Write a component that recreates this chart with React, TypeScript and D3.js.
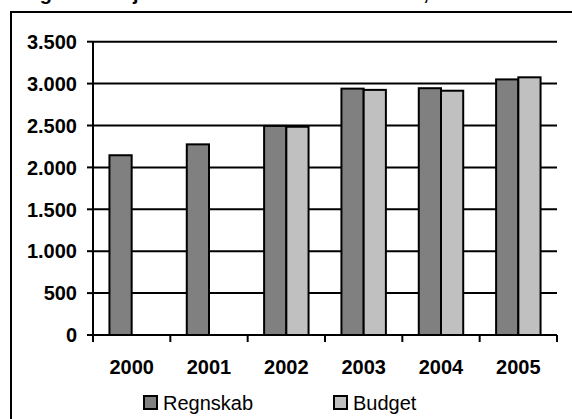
import * as d3 from "d3";

const years = ["2000", "2001", "2002", "2003", "2004", "2005"];
const regnskab = [2145, 2275, 2495, 2940, 2945, 3050];
const budget: (number | null)[] = [null, null, 2485, 2925, 2915, 3075];
const seriesNames = ["Regnskab", "Budget"];
const seriesColors = ["#808080", "#c0c0c0"];
const yTicks = [0, 500, 1000, 1500, 2000, 2500, 3000, 3500];
const tickLabel = (v: number) => d3.format(",")(v).replace(/,/g, ".");

const W = 572;
const H = 419;
const left = 93;
const right = 557;
const top = 41.7;
const bottom = 335;
const font = "'Liberation Sans', Arial, sans-serif";

export default function App() {
    const x = d3.scaleBand<string>().domain(years).range([left, right]).paddingInner(0).paddingOuter(0);
    const inner = d3
        .scaleBand<string>()
        .domain(seriesNames)
        .range([0, x.bandwidth()])
        .paddingInner(0)
        .paddingOuter(0.74);
    const y = d3.scaleLinear().domain([0, 3500]).range([bottom, top]);

    const rows = years.map((yr, i) => ({ yr, values: [regnskab[i], budget[i]] }));
    const boundaries = years.map((yr) => x(yr) as number).concat([right]);

    return (
        <svg
            width={W}
            height={H}
            style={{ position: "absolute", left: 0, top: 0, background: "#fff" }}
            fontFamily={font}
        >
            <rect x={0} y={0} width={W} height={H} fill="#fff" />
            {/* title, cut off at the top like in the source */}
            <text x={22} y={0} fontSize={20} fontWeight="bold" fill="#000">
                Figur 3. Projektmidlerne i alt fra 2000-2005, mio. kr.
            </text>
            <rect x={11} y={12} width={700} height={500} fill="none" stroke="#000" strokeWidth={2} />

            {/* gridlines */}
            {yTicks
                .filter((t) => t > 0)
                .map((t) => (
                    <line key={t} x1={left} x2={right} y1={y(t)} y2={y(t)} stroke="#000" strokeWidth={2} />
                ))}

            {/* bars */}
            {rows.map((r) => (
                <g key={r.yr} transform={`translate(${x(r.yr)},0)`}>
                    {r.values.map((v, j) =>
                        v == null ? null : (
                            <rect
                                key={j}
                                x={inner(seriesNames[j])}
                                y={y(v)}
                                width={inner.bandwidth()}
                                height={bottom - y(v)}
                                fill={seriesColors[j]}
                                stroke="#000"
                                strokeWidth={2}
                            />
                        )
                    )}
                </g>
            ))}

            {/* y axis */}
            <line x1={left} x2={left} y1={top} y2={bottom + 6} stroke="#000" strokeWidth={2} />
            {yTicks.map((t) => (
                <g key={t}>
                    <line x1={left - 6} x2={left} y1={y(t)} y2={y(t)} stroke="#000" strokeWidth={2} />
                    <text
                        x={77}
                        y={y(t)}
                        dy="0.36em"
                        textAnchor="end"
                        fontSize={20}
                        fontWeight="bold"
                        fill="#000"
                    >
                        {tickLabel(t)}
                    </text>
                </g>
            ))}

            {/* x axis */}
            <line x1={left} x2={right} y1={bottom} y2={bottom} stroke="#000" strokeWidth={2} />
            {boundaries.map((b, i) => (
                <line key={i} x1={b} x2={b} y1={bottom} y2={bottom + 7} stroke="#000" strokeWidth={2} />
            ))}
            {years.map((yr) => (
                <text
                    key={yr}
                    x={(x(yr) as number) + x.bandwidth() / 2}
                    y={373.5}
                    textAnchor="middle"
                    fontSize={20}
                    fontWeight="bold"
                    fill="#000"
                >
                    {yr}
                </text>
            ))}

            {/* legend */}
            {seriesNames.map((s, i) => {
                const lx = i === 0 ? 144 : 334;
                return (
                    <g key={s}>
                        <rect x={lx} y={396} width={13} height={13} fill={seriesColors[i]} stroke="#000" strokeWidth={2} />
                        <text x={lx + 19} y={409.5} fontSize={20} fill="#000">
                            {s}
                        </text>
                    </g>
                );
            })}
        </svg>
    );
}
